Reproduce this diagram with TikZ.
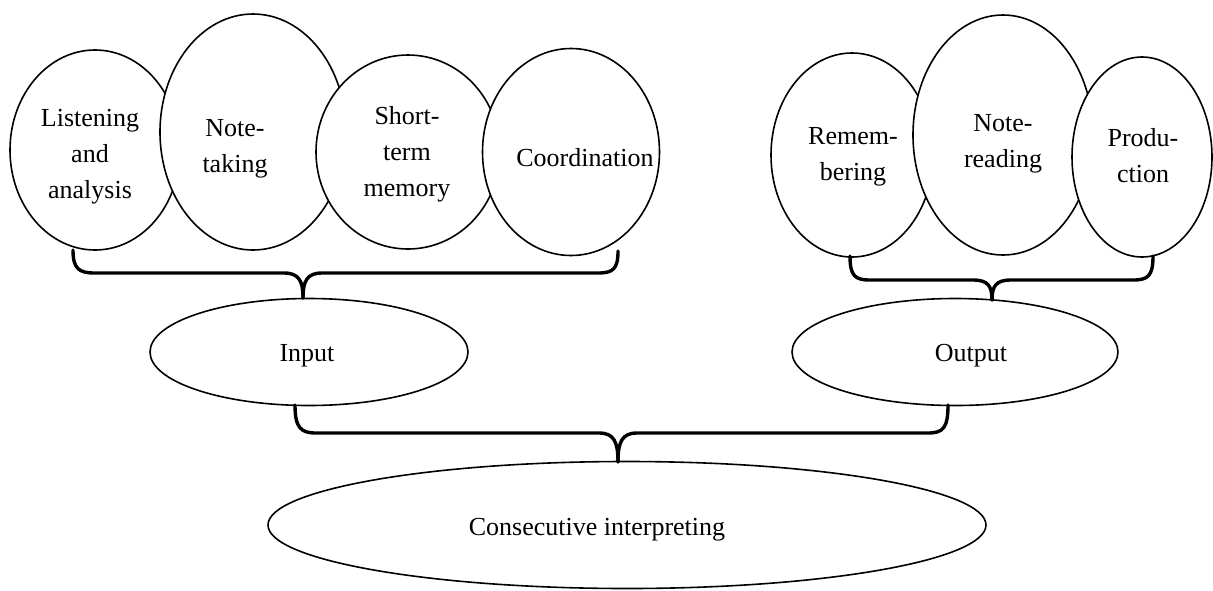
\documentclass[tikz,border=0pt]{standalone}
\usepackage{fontspec}
\setmainfont{Liberation Serif}
\usetikzlibrary{shapes.geometric}
\begin{document}
\begin{tikzpicture}[x=1pt,y=-1pt,
  bubble/.style={ellipse,draw,fill=white,line width=1.6pt,inner sep=0pt},
  lbl/.style={align=center,font=\fontsize{26}{36}\selectfont,inner sep=0pt},
  brace/.style={line width=3.4pt,line join=round,line cap=round}]
\useasboundingbox (0,0) rectangle (1213,590);
% top-left group
\node[bubble,minimum width=170,minimum height=200] (la) at (95,150) {};
\node[bubble,minimum width=186,minimum height=236] (nt) at (253,132) {};
\node[bubble,minimum width=184,minimum height=194] (stm) at (408,152) {};
\node[bubble,minimum width=177,minimum height=207] (co) at (571,152) {};
% top-right group
\node[bubble,minimum width=162,minimum height=204] (re) at (852,155) {};
\node[bubble,minimum width=180,minimum height=240] (nr) at (1003,135) {};
\node[bubble,minimum width=140,minimum height=200] (pr) at (1142,157) {};
% middle and bottom
\node[bubble,minimum width=318,minimum height=107] (in) at (309,352) {};
\node[bubble,minimum width=326,minimum height=107] (out) at (955,352) {};
\node[bubble,minimum width=718,minimum height=127] (ci) at (627,525) {};
% labels
\node[lbl] (tla) at (90,157) {Listening\\and\\analysis};
\node[lbl] (tnt) at (235,149) {Note-\\taking};
\node[lbl] (tstm) at (407,154) {Short-\\term\\memory};
\node[lbl] (tco) at (585,158) {Coordination};
\node[lbl] (tre) at (853,157) {Remem-\\bering};
\node[lbl] (tnr) at (1003,144) {Note-\\reading};
\node[lbl] (tpr) at (1143,156) {Produ-\\ction};
\node[lbl] (tin) at (307,356) {Input};
\node[lbl] (tout) at (971,356) {Output};
\node[lbl] (tci) at (597,530) {Consecutive interpreting};
% brace coordinates
\coordinate (a1) at (73,250);
\coordinate (a2) at (618,251);
\coordinate (at) at (303,298);
\coordinate (b1) at (295,405);
\coordinate (b2) at (948,405);
\coordinate (bt) at (618,462);
\coordinate (c1) at (850,256);
\coordinate (c2) at (1153,256);
\coordinate (ct) at (992,300);
% input brace
\draw[brace] (a1) .. controls (73,269) and (79,273) .. (95,273) -- (284,273)
  .. controls (299,273) and (303,281) .. (at);
\draw[brace] (at) .. controls (303,281) and (307,273) .. (322,273) -- (598,273)
  .. controls (613,273) and (618,269) .. (a2);
% output brace
\draw[brace] (c1) .. controls (850,276) and (855,280) .. (870,280) -- (973,280)
  .. controls (988,280) and (992,286) .. (ct);
\draw[brace] (ct) .. controls (992,286) and (996,280) .. (1011,280) -- (1133,280)
  .. controls (1148,280) and (1153,276) .. (c2);
% bottom brace
\draw[brace] (b1) .. controls (295,428) and (301,433) .. (316,433) -- (599,433)
  .. controls (614,433) and (618,442) .. (bt);
\draw[brace] (bt) .. controls (618,442) and (622,433) .. (637,433) -- (928,433)
  .. controls (943,433) and (948,428) .. (b2);
\end{tikzpicture}
\end{document}
